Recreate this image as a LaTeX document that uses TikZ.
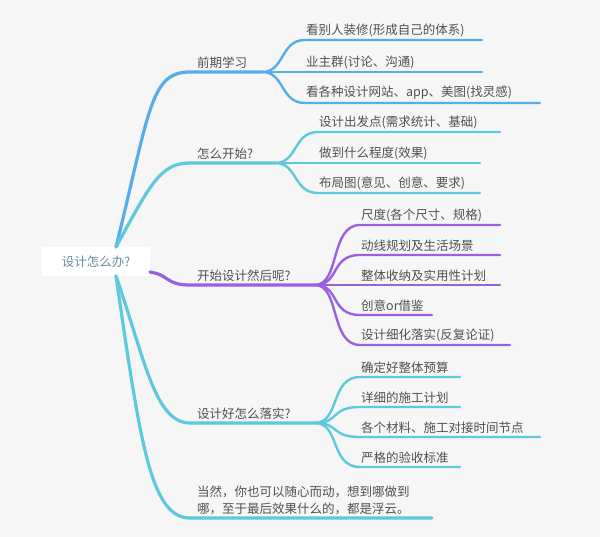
\documentclass[tikz,border=0pt]{standalone}
\usepackage{fontspec}
\setmainfont{Noto Sans CJK SC}
\usetikzlibrary{positioning,calc}
\definecolor{bgc}{HTML}{F5F6F5}
\definecolor{cblue}{HTML}{55AEEB}
\definecolor{ccyan}{HTML}{5CC9DD}
\definecolor{cpurple}{HTML}{9B5FE0}
\definecolor{ctext}{HTML}{505050}
\definecolor{croot}{HTML}{6A8CA0}
\tikzset{
  branch/.style={line width=3.2pt, line cap=round},
  leaf/.style={line width=2.4pt, line cap=round},
  lab/.style={anchor=south west, inner sep=1pt, text=ctext, font=\fontsize{12.5}{17}\selectfont},
}
\begin{document}
\begin{tikzpicture}[x=1pt,y=-1pt]
	\fill[bgc] (0,0) rectangle (600,537);
	\useasboundingbox (0,0) rectangle (600,537);
	\fill[white] (42,247) rectangle (150,276);
	\node [text=croot, font=\fontsize{12.5}{14}\selectfont] (root) at (96,261.5) {设计怎么办?};
	\coordinate (rt) at (116,247);
	\coordinate (rb) at (116,276);
	\coordinate (rr) at (150,272);

	% main branches
	\coordinate (b1) at (190,72);
	\coordinate (b1e) at (262,72);
	\coordinate (b2) at (190,163);
	\coordinate (b2e) at (275,163);
	\coordinate (b3) at (190,285);
	\coordinate (b3e) at (315,285);
	\coordinate (b4) at (190,423);
	\coordinate (b4e) at (315,423);
	\coordinate (b5) at (190,518);
	\coordinate (b5e) at (432,518);
	\draw[branch, cblue] (rt) .. controls (150,110) and (150,72) .. (b1) -- (b1e);
	\draw[branch, ccyan] (rt) .. controls (150,185) and (160,163) .. (b2) -- (b2e);
	\draw[branch, cpurple] (rr) .. controls (170,275) and (165,285) .. (b3) -- (b3e);
	\draw[branch, ccyan] (rb) .. controls (145,360) and (155,423) .. (b4) -- (b4e);
	\draw[branch, ccyan] (rb) .. controls (140,440) and (150,518) .. (b5) -- (b5e);

	\node [lab] (t1) at (196,70) {前期学习};
	\node [lab] (t2) at (196,161) {怎么开始?};
	\node [lab] (t3) at (196,283) {开始设计然后呢?};
	\node [lab] (t4) at (196,421) {设计好怎么落实?};
	\node [lab, align=left] (t5) at (196,516) {当然，你也可以随心而动，想到哪做到\\哪，至于最后效果什么的，都是浮云。};

	% leaves
	\foreach \y/\e/\t [count=\i] in {40/482/看别人装修(形成自己的体系), 72/482/业主群(讨论、沟通), 103/540/看各种设计网站、app、美图(找灵感)} {
		\draw[leaf, cblue] (b1e) .. controls (285,72) and (280,\y) .. (305,\y) -- (\e,\y);
		\node [lab] (l1\i) at (305,\y-2) {\t};
	}
	\foreach \y/\e/\t [count=\i] in {132/500/设计出发点(需求统计、基础), 163/480/做到什么程度(效果), 193/480/布局图(意见、创意、要求)} {
		\draw[leaf, ccyan] (b2e) .. controls (298,163) and (293,\y) .. (318,\y) -- (\e,\y);
		\node [lab] (l2\i) at (318,\y-2) {\t};
	}
	\foreach \y/\e/\t [count=\i] in {225/500/尺度(各个尺寸、规格), 255/500/动线规划及生活场景, 285/500/整体收纳及实用性计划, 315/432/创意or借鉴, 345/510/设计细化落实(反复论证)} {
		\draw[leaf, cpurple] (b3e) .. controls (340,285) and (330,\y) .. (360,\y) -- (\e,\y);
		\node [lab] (l3\i) at (360,\y-2) {\t};
	}
	\foreach \y/\e/\t [count=\i] in {377/460/确定好整体预算, 407/460/详细的施工计划, 437/540/各个材料、施工对接时间节点, 467/460/严格的验收标准} {
		\draw[leaf, ccyan] (b4e) .. controls (340,423) and (330,\y) .. (360,\y) -- (\e,\y);
		\node [lab] (l4\i) at (360,\y-2) {\t};
	}
\end{tikzpicture}
\end{document}
